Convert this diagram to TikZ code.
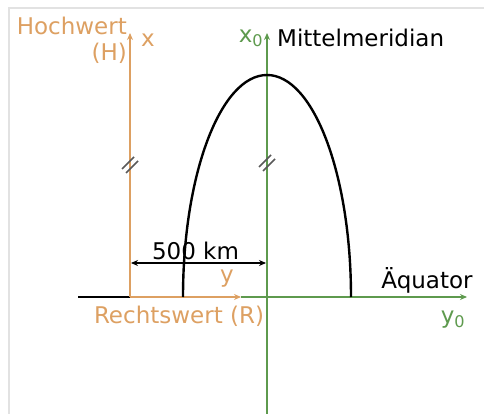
\documentclass[tikz,border=0pt]{standalone}
\usepackage{fontspec}
\setmainfont{DejaVu Sans}
\usetikzlibrary{arrows.meta, positioning}
\definecolor{hochrechts}{HTML}{DDA062}
\definecolor{meridian}{HTML}{5E9A4E}
\definecolor{frame}{HTML}{E2E2E2}

\begin{document}
\begin{tikzpicture}[
  x=1pt, y=-1pt,
  font=\fontsize{23}{26}\selectfont,
  axis/.style={line width=1.8pt, -{Stealth[length=7pt, width=6pt]}},
  dim/.style={line width=1.8pt, {Stealth[length=7pt, width=6pt]}-{Stealth[length=7pt, width=6pt]}},
  brk/.style={line width=1.6pt, draw=black!65},
  lbl/.style={inner sep=1pt}
]
  \useasboundingbox (0,0) rectangle (484,414);
  \draw[frame, line width=2pt] (9,414) -- (9,8) -- (484,8);

  % axes
  \coordinate (origin) at (130,297);
  \coordinate (htop) at (130,33);
  \coordinate (west) at (78,297);
  \coordinate (rend) at (241,297);
  \coordinate (eend) at (467,297);
  \coordinate (mfoot) at (267,414);
  \coordinate (mtop) at (267,33);
  \coordinate (hbreak) at (130,165);
  \coordinate (mbreak) at (267,163);

  \draw[line width=1.8pt] (west) -- (origin);
  \draw[axis, meridian] (rend) -- (eend);
  \draw[axis, meridian] (mfoot) -- (mtop);
  \draw[axis, hochrechts] (origin) -- (htop);
  \draw[axis, hochrechts] (origin) -- (rend);

  % zone boundary
  \draw[line width=2.4pt] (183,297) arc[start angle=180, end angle=360, x radius=84, y radius=222];

  \foreach \p in {hbreak, mbreak} {
    \draw[brk] ([shift={(-8,4)}]\p) -- ([shift={(4,-8)}]\p);
    \draw[brk] ([shift={(-4,8)}]\p) -- ([shift={(8,-4)}]\p);
  }

  % 500 km
  \coordinate (diml) at (131,263);
  \coordinate (dimr) at (266,263);
  \draw[dim] (diml) -- node[lbl, above=1pt, xshift=-3pt] (dist) {500 km} (dimr);

  % labels
  \node[lbl, hochrechts, anchor=north east, align=right] (hoch) at (128,16) {Hochwert\\(H)};
  \node[lbl, hochrechts] (xlab) at (148,40) {x};
  \node[lbl, hochrechts] (ylab) at (227,279) {y};
  \node[lbl, hochrechts, below=8pt of origin, xshift=49pt] (rechts) {Rechtswert (R)};
  \node[lbl, meridian] (x0) at (251,38) {x\textsubscript{0}};
  \node[lbl, anchor=west] (mittel) at (276,38) {Mittelmeridian};
  \node[lbl] (aequ) at (427,280) {Äquator};
  \node[lbl, meridian] (y0) at (453,320) {y\textsubscript{0}};
\end{tikzpicture}
\end{document}
